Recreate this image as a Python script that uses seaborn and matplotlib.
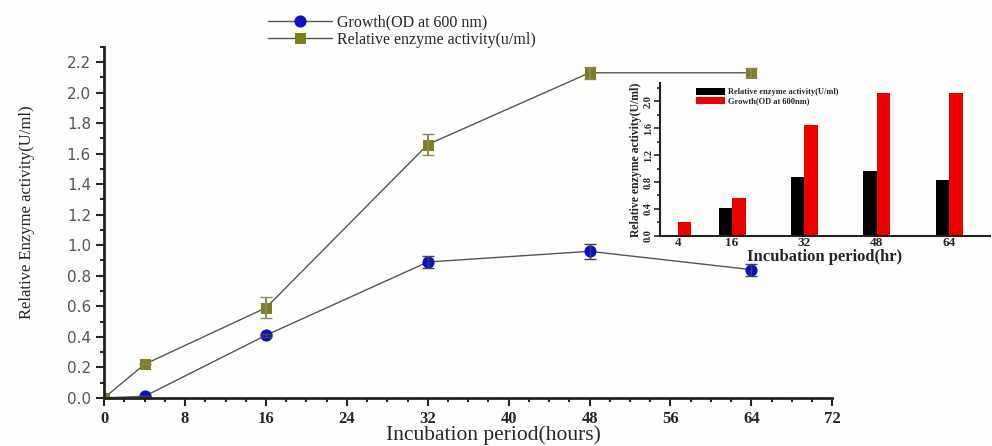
import matplotlib
matplotlib.use("Agg")
import matplotlib.pyplot as plt
import seaborn as sns
import pandas as pd
from matplotlib.ticker import MultipleLocator

# main chart data
hours = [0, 4, 16, 32, 48, 64]
growth = [0.0, 0.01, 0.41, 0.89, 0.96, 0.84]
growth_err = [0.0, 0.0, 0.01, 0.04, 0.05, 0.04]
enzyme = [0.0, 0.22, 0.59, 1.66, 2.13, 2.13]
enzyme_err = [0.0, 0.0, 0.07, 0.07, 0.04, 0.03]

# inset data
inset_hours = [4, 16, 32, 48, 64]
inset_black = [0.01, 0.41, 0.88, 0.96, 0.83]
inset_red = [0.21, 0.57, 1.65, 2.12, 2.12]

sns.set_style("white")
serif = ["Liberation Serif", "DejaVu Serif"]

fig = plt.figure(figsize=(9.92, 4.46), dpi=100)
fig.patch.set_facecolor("#fdfefb")
ax = fig.add_axes([0.105, 0.108, 0.734, 0.787])
ax.set_facecolor("#fdfefb")

blue = "#0a10c8"
olive = "#7f7f1c"
line_c = "#555555"

df = pd.DataFrame({"hours": hours, "growth": growth, "enzyme": enzyme})
sns.lineplot(data=df, x="hours", y="growth", ax=ax, color=line_c, lw=1.0,
             marker="o", markersize=8, markerfacecolor=blue, markeredgecolor=blue,
             label="Growth(OD at 600 nm)")
sns.lineplot(data=df, x="hours", y="enzyme", ax=ax, color=line_c, lw=1.0,
             marker="s", markersize=7, markerfacecolor=olive, markeredgecolor=olive,
             label="Relative enzyme activity(u/ml)")
ax.errorbar(hours[1:], growth[1:], yerr=growth_err[1:], fmt="none", ecolor="#444444",
            elinewidth=1, capsize=4)
ax.errorbar(hours[1:], enzyme[1:], yerr=enzyme_err[1:], fmt="none", ecolor="#888866",
            elinewidth=1.5, capsize=4)

ax.set_xlim(0, 72)
ax.set_ylim(0, 2.3)
ax.xaxis.set_major_locator(MultipleLocator(8))
ax.xaxis.set_minor_locator(MultipleLocator(2))
ax.yaxis.set_minor_locator(MultipleLocator(0.1))
ax.set_yticks([i * 0.2 for i in range(12)])
ax.set_yticklabels([f"{i * 0.2:.1f}" for i in range(12)])
ax.tick_params(axis="both", which="major", direction="out", length=6, width=1.5,
               bottom=True, left=True)
ax.tick_params(axis="both", which="minor", direction="out", length=3, width=1.5,
               bottom=True, left=True)
for lab in ax.get_yticklabels():
    lab.set_color("#555555")
    lab.set_fontsize(11)
    lab.set_family("DejaVu Sans")
for lab in ax.get_xticklabels():
    lab.set_fontweight("bold")
    lab.set_fontsize(12)
    lab.set_family(serif)
sns.despine(ax=ax)
for s in ("left", "bottom"):
    ax.spines[s].set_linewidth(2)
    ax.spines[s].set_color("#222222")

ax.set_xlabel("Incubation period(hours)", fontsize=15.5, family=serif)
ax.xaxis.set_label_coords(0.534, -0.078)
ax.set_ylabel("Relative Enzyme activity(U/ml)", fontsize=12, family=serif)
ax.yaxis.set_label_coords(-0.095, 0.53)

handles, labels = ax.get_legend_handles_labels()
ax.get_legend().remove()
fig.legend(handles, labels, loc="upper left", bbox_to_anchor=(0.256, 1.0),
           frameon=False, prop={"family": serif, "size": 11.5}, handlelength=4.0,
           labelspacing=0.1, handletextpad=0.3)

# inset bar chart
ins = fig.add_axes([0.665, 0.471, 0.333, 0.343])
ins.set_facecolor("#fdfefb")
bdf = pd.DataFrame({
    "hr": inset_hours * 2,
    "val": inset_black + inset_red,
    "series": ["Relative enzyme activity(U/ml)"] * 5 + ["Growth(OD at 600nm)"] * 5,
})
sns.barplot(data=bdf, x="hr", y="val", hue="series", native_scale=True, width=0.5,
            palette=["#000000", "#ee0000"], ax=ins, saturation=1, edgecolor="none")
ins.set_xlim(0, 73)
ins.set_ylim(0, 2.27)
ins.set_xticks(inset_hours)
ins.set_xticklabels([str(h) for h in inset_hours], fontweight="bold", fontsize=9.5,
                    family=serif)
ins.set_yticks([0.0, 0.4, 0.8, 1.2, 1.6, 2.0])
ins.set_yticklabels(["0.0", "0.4", "0.8", "1.2", "1.6", "2.0"], rotation=90,
                    fontweight="bold", fontsize=7.5, family=serif, va="center")
ins.yaxis.set_minor_locator(MultipleLocator(0.2))
ins.tick_params(axis="y", which="major", direction="out", length=4, width=1.2,
                left=True, pad=1)
ins.tick_params(axis="y", which="minor", direction="out", length=2, width=1.2, left=True)
ins.tick_params(axis="x", which="major", direction="out", length=0, pad=1)
sns.despine(ax=ins)
for s in ("left", "bottom"):
    ins.spines[s].set_linewidth(1.5)
    ins.spines[s].set_color("#222222")
ins.set_xlabel("Incubation period(hr)", fontsize=12, fontweight="bold", family=serif,
               labelpad=0)
ins.set_ylabel("Relative enzyme activity(U/ml)", fontsize=8.5, fontweight="bold",
               family=serif, labelpad=1)
ins.legend(loc="upper left", bbox_to_anchor=(0.1, 0.99), frameon=False,
           prop={"family": serif, "size": 6, "weight": "bold"}, handlelength=3.5,
           handleheight=0.9, labelspacing=0.1, handletextpad=0.3, borderaxespad=0)

fig.savefig("out.png", dpi=100, facecolor=fig.get_facecolor())
